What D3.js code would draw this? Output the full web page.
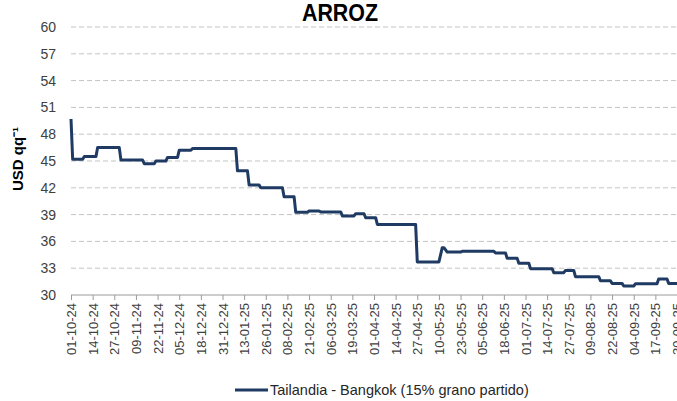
<!DOCTYPE html>
<html>
<head>
<meta charset="utf-8">
<script src="https://d3js.org/d3.v7.min.js"></script>
<style>
  body { margin: 0; background: #fff; }
  text { font-family: "Liberation Sans", Arial, sans-serif; }
</style>
</head>
<body>
<script>
  // price series (date, USD per qq)
  var dates = ["01-10-24","02-10-24","08-10-24","09-10-24","16-10-24","17-10-24","30-10-24","31-10-24",
    "13-11-24","14-11-24","20-11-24","21-11-24","27-11-24","28-11-24","04-12-24","05-12-24","12-12-24","13-12-24",
    "08-01-25","09-01-25","15-01-25","16-01-25","22-01-25","23-01-25","05-02-25","06-02-25","12-02-25","13-02-25",
    "20-02-25","21-02-25","27-02-25","28-02-25","12-03-25","13-03-25","20-03-25","21-03-25","26-03-25","27-03-25",
    "02-04-25","03-04-25","26-04-25","27-04-25","10-05-25","12-05-25","13-05-25","15-05-25","23-05-25","24-05-25",
    "12-06-25","13-06-25","19-06-25","20-06-25","26-06-25","27-06-25","03-07-25","04-07-25","17-07-25","18-07-25",
    "24-07-25","25-07-25","30-07-25","31-07-25","14-08-25","15-08-25","21-08-25","22-08-25","28-08-25","29-08-25",
    "04-09-25","05-09-25","18-09-25","19-09-25","24-09-25","25-09-25","30-09-25"];
  var prices = [49.7,45.2,45.2,45.5,45.5,46.5,46.5,45.1,
    45.1,44.7,44.7,45.0,45.0,45.4,45.4,46.2,46.2,46.4,
    46.4,43.9,43.9,42.3,42.3,42.0,42.0,41.0,41.0,39.25,
    39.25,39.4,39.4,39.3,39.3,38.85,38.85,39.1,39.1,38.65,
    38.65,37.9,37.9,33.7,33.7,35.3,35.3,34.8,34.8,34.9,
    34.9,34.7,34.7,34.1,34.1,33.55,33.55,32.95,32.95,32.5,
    32.5,32.75,32.75,32.05,32.05,31.6,31.6,31.3,31.3,31.0,
    31.0,31.25,31.25,31.8,31.8,31.3,31.3];

  var tickLabels = ["01-10-24","14-10-24","27-10-24","09-11-24","22-11-24","05-12-24","18-12-24","31-12-24",
    "13-01-25","26-01-25","08-02-25","21-02-25","06-03-25","19-03-25","01-04-25","14-04-25","27-04-25",
    "10-05-25","23-05-25","05-06-25","18-06-25","01-07-25","14-07-25","27-07-25","09-08-25","22-08-25",
    "04-09-25","17-09-25","30-09-25"];
  var yTicks = [30,33,36,39,42,45,48,51,54,57,60];

  var parse = d3.timeParse("%d-%m-%y");
  var data = dates.map(function(d, i){ return {date: parse(d), value: prices[i]}; });

  var width = 677, height = 401;
  var svg = d3.select("body").append("svg")
    .attr("width", width)
    .attr("height", height);

  var x = d3.scaleTime()
    .domain([parse("01-10-24"), parse("30-09-25")])
    .range([71, 677]);
  var y = d3.scaleLinear()
    .domain([30, 60])
    .range([295, 27]);

  // gridlines
  svg.append("g").selectAll("line")
    .data(yTicks.filter(function(d){ return d > 30; }))
    .enter().append("line")
    .attr("x1", 71).attr("x2", width)
    .attr("y1", function(d){ return y(d); })
    .attr("y2", function(d){ return y(d); })
    .style("stroke", "#c3c3c3")
    .style("stroke-width", 1)
    .style("stroke-dasharray", "5,3");

  // y labels
  svg.append("g").selectAll("text")
    .data(yTicks)
    .enter().append("text")
    .attr("x", 56)
    .attr("y", function(d){ return y(d) + 5; })
    .attr("text-anchor", "end")
    .style("font-size", "14px")
    .style("fill", "#404040")
    .text(function(d){ return d; });

  // x axis
  var xAxis = d3.axisBottom(x)
    .tickValues(tickLabels.map(parse))
    .tickSize(5)
    .tickFormat(d3.timeFormat("%d-%m-%y"));

  var gx = svg.append("g")
    .attr("transform", "translate(0,295)")
    .call(xAxis);
  gx.select(".domain").attr("d", "M71,0H" + width).style("stroke", "#9a9a9a");
  gx.selectAll(".tick line").style("stroke", "#9a9a9a");
  gx.selectAll(".tick text")
    .attr("transform", "rotate(-90)")
    .attr("x", -8)
    .attr("y", 0)
    .attr("dy", "0.35em")
    .attr("text-anchor", "end")
    .style("font-family", "'Liberation Sans', Arial, sans-serif")
    .style("font-size", "13px")
    .style("fill", "#404040");

  // line
  var line = d3.line()
    .x(function(d){ return x(d.date); })
    .y(function(d){ return y(d.value); });

  svg.append("path")
    .datum(data)
    .attr("d", line)
    .style("fill", "none")
    .style("stroke", "#1f3b63")
    .style("stroke-width", 3)
    .style("stroke-linejoin", "round");

  // title
  svg.append("text")
    .attr("x", 340)
    .attr("y", 21)
    .attr("text-anchor", "middle")
    .attr("textLength", 76)
    .attr("lengthAdjust", "spacingAndGlyphs")
    .style("font-size", "24px")
    .style("font-weight", "bold")
    .style("fill", "#000")
    .text("ARROZ");

  // y title
  svg.append("text")
    .attr("transform", "translate(23,159) rotate(-90)")
    .attr("text-anchor", "middle")
    .style("font-size", "15px")
    .style("font-weight", "bold")
    .style("fill", "#000")
    .text("USD qq\u207B\u00B9");

  // legend
  svg.append("line")
    .attr("x1", 235).attr("x2", 268)
    .attr("y1", 390).attr("y2", 390)
    .style("stroke", "#1f3b63")
    .style("stroke-width", 3);
  svg.append("text")
    .attr("x", 270)
    .attr("y", 395)
    .style("font-size", "14.5px")
    .style("fill", "#262626")
    .text("Tailandia - Bangkok (15% grano partido)");
</script>
</body>
</html>
